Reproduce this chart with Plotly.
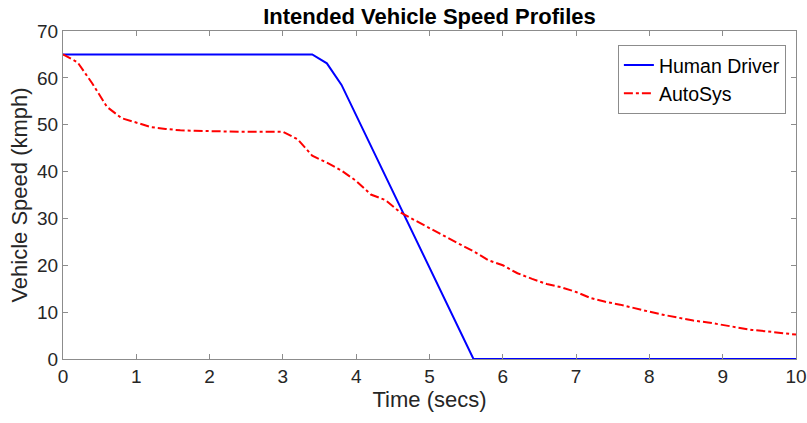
import plotly.graph_objects as go

# Human driver profile (breakpoints, km/h)
human_t = [0.0, 3.4, 3.6, 3.8, 5.6, 10.0]
human_v = [65.0, 65.0, 63.1, 58.5, 0.0, 0.0]

# AutoSys profile sampled every 0.2 s (km/h)
auto_t = [round(0.2 * i, 1) for i in range(51)]
auto_v = [65.0, 63.3, 58.8, 53.8, 51.4, 50.5, 49.5, 49.1, 48.8, 48.7,
          48.6, 48.6, 48.5, 48.5, 48.5, 48.5, 46.9, 43.4, 41.9, 40.2,
          38.0, 35.1, 33.9, 31.3, 29.6, 27.9, 26.2, 24.6, 23.0, 21.1,
          20.0, 18.3, 17.1, 16.0, 15.3, 14.3, 13.0, 12.2, 11.6, 10.8,
          10.1, 9.4, 8.8, 8.2, 7.8, 7.3, 6.8, 6.2, 5.9, 5.6, 5.2]

x_ticks = list(range(0, 11))
y_ticks = list(range(0, 71, 10))

FONT = "Liberation Sans, Arial, sans-serif"
AXIS_GREY = "#8c8c8c"
TEXT = "#262626"

fig = go.Figure()
fig.add_trace(go.Scatter(x=human_t, y=human_v, mode="lines", name="Human Driver",
                         line=dict(color="#0000ff", width=2)))
fig.add_trace(go.Scatter(x=auto_t, y=auto_v, mode="lines", name="AutoSys",
                         line=dict(color="#ff0000", width=2, dash="dashdot")))

axis_common = dict(
    showgrid=False, zeroline=False, showline=True, linecolor=AXIS_GREY, linewidth=1,
    mirror="ticks", ticks="inside", ticklen=5, tickcolor=AXIS_GREY, automargin=False,
    tickfont=dict(family=FONT, size=19, color=TEXT),
)

fig.update_layout(
    width=807, height=423,
    margin=dict(l=63, r=11, t=31, b=64),
    paper_bgcolor="white", plot_bgcolor="white",
    title=dict(text="<b>Intended Vehicle Speed Profiles</b>", x=0.5, xanchor="center",
               xref="paper", y=0.962, yanchor="middle",
               font=dict(family=FONT, size=22, color="black")),
    xaxis=dict(range=[0, 10], tickvals=x_ticks, ticklabelstandoff=0,
               title=dict(text="Time (secs)", font=dict(family=FONT, size=22, color=TEXT), standoff=5),
               **axis_common),
    yaxis=dict(range=[0, 70], tickvals=y_ticks,
               title=dict(text="Vehicle Speed (kmph)", font=dict(family=FONT, size=22, color=TEXT), standoff=3),
               **axis_common),
    legend=dict(x=0.757, y=0.958, xanchor="left", yanchor="top",
                bgcolor="white", bordercolor=AXIS_GREY, borderwidth=1,
                font=dict(family=FONT, size=19.5, color="black"),
                itemwidth=30, tracegroupgap=0),
    showlegend=True,
)

fig.write_html("out.html")
